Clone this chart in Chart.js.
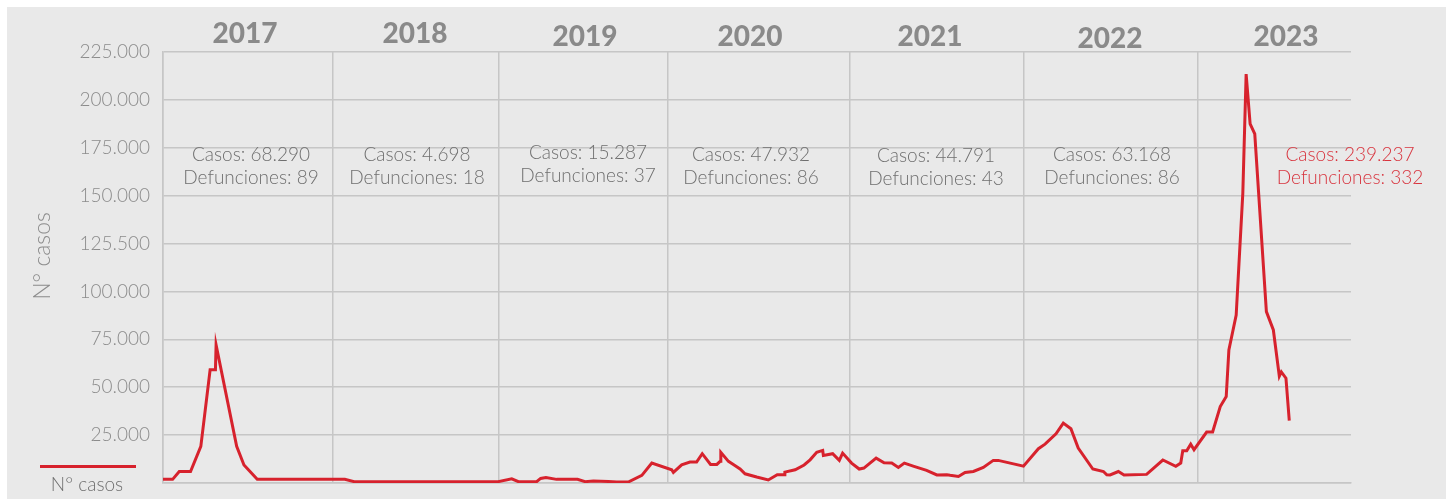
<!DOCTYPE html>
<html>
<head>
<meta charset="utf-8">
<title>N° casos 2017-2023</title>
<script src="https://cdn.jsdelivr.net/npm/chart.js@4.4.0/dist/chart.umd.min.js"></script>
<style>
  html, body { margin: 0; padding: 0; background: #ffffff; }
  #wrap { width: 1451px; height: 499px; }
</style>
</head>
<body>
<div id="wrap"><canvas id="chart" width="1451" height="499"></canvas></div>
<script>
// x = semanas desde el inicio de 2017
const semanas = [
  0, 2.9, 4.9, 8.3, 11.4, 14.2, 15.8, 16.0, 22.2, 24.4, 28.4, 54.8, 57.6,
  101.0, 105.1, 107.1, 112.6, 113.8, 115.4, 118.6, 124.9, 127.2, 129.7, 134.2, 136.7, 140.2, 144.3, 147.3,
  153.3, 153.8, 156.3, 158.8, 160.8, 162.5, 165.0, 166.9, 167.9, 168.1, 170.4, 172.1, 173.9, 175.4, 178.9,
  182.4, 185.1, 187.2, 187.4, 190.5, 193.2, 195.0, 197.0, 198.8, 199.0, 201.8, 203.8, 204.8,
  207.5, 209.8, 211.2, 214.9, 217.3, 219.6, 221.6, 223.4, 226.3, 230.1, 233.2, 236.2, 237.2, 239.7,
  241.7, 244.2, 247.2, 250.2, 251.7,
  259.3, 263.8, 265.8, 269.1, 271.3, 273.6, 275.8, 280.2, 283.4, 284.4, 285.4, 287.9, 289.6, 296.4,
  301.3, 305.2, 306.7, 307.3, 308.5, 309.7, 310.7,
  314.5, 316.3, 318.6, 320.4, 321.2, 323.4, 325.4, 326.4, 327.6, 329.0, 332.5, 334.6, 336.4, 337.0, 338.4, 339.4
];
const casos = [
  1900, 1900, 6000, 6000, 19100, 59100, 59100, 72100, 19100, 9400, 1900, 1900, 700,
  700, 2200, 700, 700, 2400, 2900, 1900, 1900, 700, 1000, 800, 500, 500, 4000, 10400,
  6900, 5500, 9500, 10900, 10900, 15300, 9700, 9700, 11300, 16000, 11300, 9400, 7300, 4800, 3100,
  1600, 4300, 4300, 5700, 6900, 9400, 12100, 16000, 17000, 14400, 15300, 11800, 15600,
  10400, 7300, 7800, 13000, 10600, 10400, 8100, 10400, 8700, 6600, 4200, 4300, 4000, 3400,
  5500, 6000, 8100, 11800, 11800,
  8800, 17900, 20300, 25700, 31300, 28300, 18200, 7300, 6000, 4300, 4200, 6000, 4200, 4500,
  12000, 8700, 10400, 16800, 16800, 20300, 17400,
  26600, 26600, 39900, 45100, 69500, 87700, 151300, 213500, 187500, 182300, 89500, 79900, 55800, 58000, 54700, 32600
];

const years = ['2017', '2018', '2019', '2020', '2021', '2022', '2023'];
const yearStarts = [0, 51.2, 101.3, 152.2, 207.0, 259.5, 311.9];
const casosAnuales = ['68.290', '4.698', '15.287', '47.932', '44.791', '63.168', '239.237'];
const defuncionesAnuales = ['89', '18', '37', '86', '43', '86', '332'];

const yTicks = [0, 25000, 50000, 75000, 100000, 125000, 150000, 175000, 200000, 225000];
const yTickLabels = ['', '25.000', '50.000', '75.000', '100.000', '125.500', '150.000', '175.000', '200.000', '225.000'];

const RED = '#d7222d';
const GRID = '#c6c6c6';
const FONT = 'Lato, "Open Sans", sans-serif';

// text layout (px)
const yearLabelPos = [[245, 34], [415, 34], [585, 37], [750, 37], [930, 37], [1110, 39], [1286, 37]];
const notePos = [[251, 155], [417, 155], [588, 153], [751, 155], [936, 156], [1112, 155], [1350, 155]];

const decorations = {
  id: 'decorations',
  beforeDraw(chart) {
    const ctx = chart.ctx;
    ctx.save();
    ctx.fillStyle = '#ffffff';
    ctx.fillRect(0, 0, chart.width, chart.height);
    ctx.fillStyle = '#e9e9e9';
    ctx.fillRect(7, 7, 1439, 492);
    ctx.restore();
  },
  afterDraw(chart) {
    const ctx = chart.ctx;
    ctx.save();
    ctx.textAlign = 'center';
    ctx.textBaseline = 'middle';

    // years
    ctx.fillStyle = '#8a8a8a';
    ctx.font = '900 28px ' + FONT;
    years.forEach((y, i) => ctx.fillText(y, yearLabelPos[i][0], yearLabelPos[i][1]));

    // casos / defunciones
    ctx.font = '300 19px ' + FONT;
    years.forEach((y, i) => {
      ctx.fillStyle = i === years.length - 1 ? '#d8343e' : '#6f6f6f';
      const [x, yy] = notePos[i];
      ctx.fillText('Casos: ' + casosAnuales[i], x, yy);
      ctx.fillText('Defunciones: ' + defuncionesAnuales[i], x, yy + 23);
    });

    // y title
    ctx.save();
    ctx.translate(43, 256);
    ctx.rotate(-Math.PI / 2);
    ctx.fillStyle = '#8c8c8c';
    ctx.font = '300 23px ' + FONT;
    ctx.fillText('N° casos', 0, 0);
    ctx.restore();

    // legend
    ctx.strokeStyle = RED;
    ctx.lineWidth = 3;
    ctx.beginPath();
    ctx.moveTo(40, 466.5);
    ctx.lineTo(136, 466.5);
    ctx.stroke();
    ctx.fillStyle = '#6f6f6f';
    ctx.font = '300 19px ' + FONT;
    ctx.fillText('N° casos', 87, 485);
    ctx.restore();
  }
};

new Chart(document.getElementById('chart'), {
  type: 'line',
  data: {
    datasets: [{
      label: 'N° casos',
      data: semanas.map((s, i) => ({ x: s, y: casos[i] })),
      borderColor: RED,
      borderWidth: 3,
      pointRadius: 0,
      tension: 0,
      fill: false,
    }],
  },
  options: {
    responsive: false,
    animation: false,
    layout: { padding: { left: 0, right: 100, top: 52, bottom: 16 } },
    plugins: {
      legend: { display: false },
      tooltip: { enabled: false },
    },
    scales: {
      x: {
        type: 'linear',
        min: 0,
        max: 358,
        afterBuildTicks: scale => { scale.ticks = yearStarts.map(v => ({ value: v })); },
        afterFit: scale => { scale.height = 0; },
        ticks: { display: false },
        grid: { color: GRID, lineWidth: 1.5, drawTicks: false },
        border: { color: GRID, width: 1.5 },
      },
      y: {
        min: 0,
        max: 225000,
        afterBuildTicks: scale => { scale.ticks = yTicks.map(v => ({ value: v })); },
        afterFit: scale => {
          scale.width = 163;
          scale.paddingTop = 0;
          scale.paddingBottom = 0;
        },
        ticks: {
          padding: 13,
          color: '#8c8c8c',
          font: { family: FONT, size: 19, weight: 300 },
          callback: (v, i) => yTickLabels[i],
        },
        grid: { color: GRID, lineWidth: 1.5, drawTicks: false },
        border: { color: GRID, width: 1.5 },
      },
    },
  },
  plugins: [decorations],
});
</script>
</body>
</html>
